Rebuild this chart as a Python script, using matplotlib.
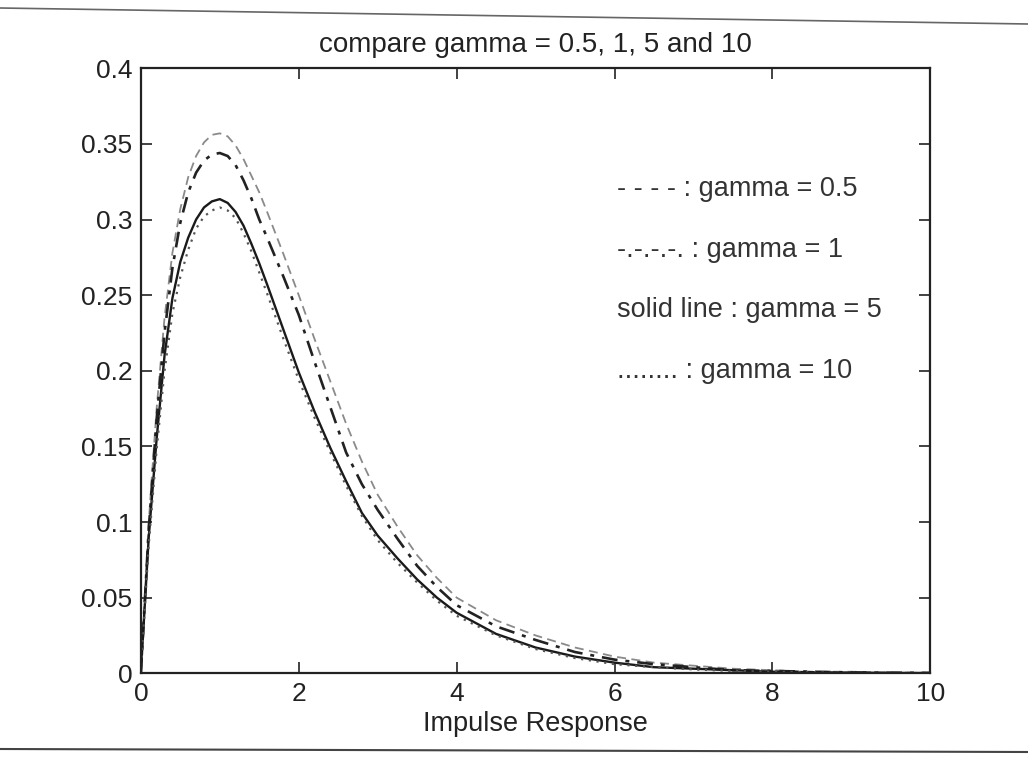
import numpy as np
import matplotlib
matplotlib.use("Agg")
import matplotlib.pyplot as plt
from matplotlib.lines import Line2D

plt.rcParams['font.family'] = ['Liberation Sans', 'DejaVu Sans']

# =========================
# DATEN
# =========================
t = [0, 0.1, 0.2, 0.3, 0.4, 0.5, 0.6, 0.7, 0.8, 0.9, 1.0, 1.1, 1.2, 1.3, 1.4,
     1.5, 1.6, 1.8, 2.0, 2.2, 2.4, 2.6, 2.8, 3.0, 3.25, 3.5, 3.75, 4.0, 4.5,
     5.0, 5.5, 6.0, 6.5, 7.0, 7.5, 8.0, 8.5, 9.0, 9.5, 10.0]

gamma_05 = [0, 0.100, 0.175, 0.235, 0.278, 0.307, 0.328, 0.342, 0.351, 0.356,
            0.357, 0.355, 0.349, 0.340, 0.329, 0.318, 0.305, 0.278, 0.250,
            0.221, 0.193, 0.165, 0.140, 0.118, 0.097, 0.078, 0.063, 0.050,
            0.035, 0.025, 0.017, 0.011, 0.007, 0.005, 0.003, 0.002, 0.001,
            0.001, 0.0005, 0.0003]

gamma_1 = [0, 0.095, 0.168, 0.225, 0.268, 0.298, 0.318, 0.331, 0.339, 0.343,
           0.344, 0.342, 0.336, 0.326, 0.314, 0.300, 0.288, 0.263, 0.237,
           0.206, 0.176, 0.146, 0.125, 0.108, 0.089, 0.071, 0.057, 0.045,
           0.031, 0.022, 0.014, 0.009, 0.006, 0.004, 0.002, 0.0015, 0.001,
           0.0005, 0.0003, 0.0002]

gamma_5 = [0, 0.090, 0.155, 0.210, 0.248, 0.272, 0.288, 0.300, 0.308, 0.312,
           0.3135, 0.311, 0.305, 0.296, 0.284, 0.271, 0.257, 0.228, 0.199,
           0.173, 0.149, 0.127, 0.106, 0.091, 0.076, 0.062, 0.050, 0.040,
           0.026, 0.017, 0.011, 0.007, 0.004, 0.003, 0.002, 0.001, 0.0007,
           0.0004, 0.0002, 0.0001]

gamma_10 = [0, 0.085, 0.148, 0.200, 0.238, 0.262, 0.280, 0.294, 0.302, 0.306,
            0.308, 0.306, 0.301, 0.291, 0.279, 0.265, 0.251, 0.222, 0.194,
            0.169, 0.146, 0.124, 0.104, 0.088, 0.073, 0.060, 0.048, 0.038,
            0.025, 0.016, 0.010, 0.006, 0.004, 0.0025, 0.0015, 0.001, 0.0006,
            0.0003, 0.0002, 0.0001]

beschriftung = ["- - - - : gamma = 0.5",
                "-.-.-.-. : gamma = 1",
                "solid line : gamma = 5",
                "........ : gamma = 10"]
beschriftung_y = [0.32, 0.28, 0.24, 0.20]

# =========================
# PLOT
# =========================
fig = plt.figure(figsize=(10.28, 7.59), dpi=100)
ax = fig.add_axes([0.137, 0.113, 0.768, 0.797])

ax.plot(t, gamma_05, linestyle=(0, (5, 3)), color='#8a8a8a', lw=1.3)
ax.plot(t, gamma_1, linestyle=(0, (6, 3, 1.5, 3)), color='#222222', lw=1.9)
ax.plot(t, gamma_5, '-', color='#1a1a1a', lw=1.7)
ax.plot(t, gamma_10, linestyle=(0, (1, 2.5)), color='#555555', lw=1.6)

for txt, yy in zip(beschriftung, beschriftung_y):
    ax.text(6.03, yy, txt, fontsize=19.5, va='center', ha='left', color='#333333')

ax.set_xlim(0, 10)
ax.set_ylim(0, 0.4)
ax.set_xticks([0, 2, 4, 6, 8, 10])
ax.set_yticks([0, 0.05, 0.1, 0.15, 0.2, 0.25, 0.3, 0.35, 0.4])
ax.set_yticklabels(["0", "0.05", "0.1", "0.15", "0.2", "0.25", "0.3", "0.35", "0.4"])
ax.tick_params(direction='in', length=8, width=1.2, top=True, right=True,
               labelsize=19, colors='#222222', pad=6)
for s in ax.spines.values():
    s.set_linewidth(1.6)
    s.set_color('#222222')

ax.set_title("compare gamma = 0.5, 1, 5 and 10", fontsize=20, pad=12, color='#222222')
ax.set_xlabel("Impulse Response", fontsize=19.5, labelpad=4, color='#222222')

# Scan-Rahmen
fig.add_artist(Line2D([0, 1], [1 - 8 / 759, 1 - 24 / 759], transform=fig.transFigure,
                      color='#666666', lw=1.2))
fig.add_artist(Line2D([0, 1], [1 - 749 / 759, 1 - 752 / 759], transform=fig.transFigure,
                      color='#444444', lw=1.5))

fig.savefig("out.png", dpi=100)
